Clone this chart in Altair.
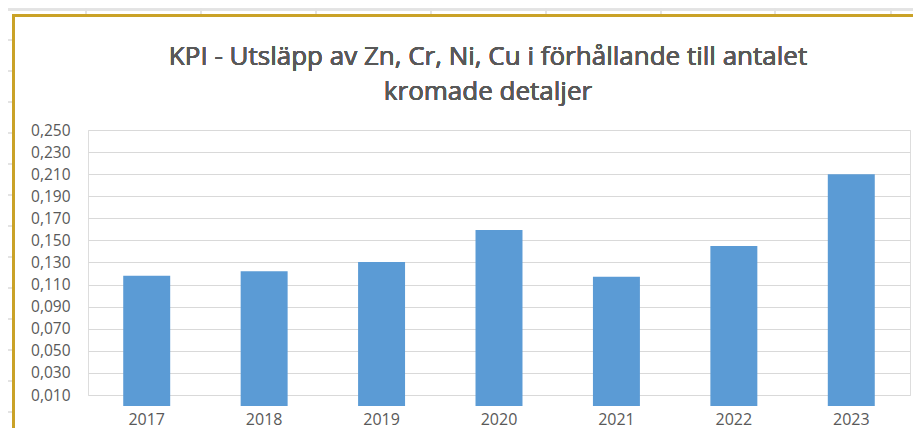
import altair as alt
import pandas as pd

years = ["2017", "2018", "2019", "2020", "2021", "2022", "2023"]
values = [0.118, 0.122, 0.1305, 0.1595, 0.117, 0.145, 0.210]
y_ticks = [0.010, 0.030, 0.050, 0.070, 0.090, 0.110, 0.130, 0.150,
           0.170, 0.190, 0.210, 0.230, 0.250]
title_lines = ["KPI - Utsläpp av Zn, Cr, Ni, Cu i förhållande till antalet",
               "kromade detaljer"]

df = pd.DataFrame({"year": years, "value": values})

TEXT = "#595959"
GRID = "#D9D9D9"
GOLD = "#C9A227"
CELL = "#E3E3E3"
FONT = "Open Sans"

bars = alt.Chart(df).mark_bar(color="#5B9BD5").encode(
    x=alt.X("year:N", sort=years,
            scale=alt.Scale(paddingInner=0.6, paddingOuter=0.3),
            axis=alt.Axis(title=None, labelAngle=0, ticks=False,
                          domain=False, grid=False, labelPadding=16,
                          labelFontSize=16, labelColor=TEXT, labelFont=FONT,
                          labelFontWeight="normal")),
    y=alt.Y("value:Q",
            scale=alt.Scale(domain=[0.01, 0.25], nice=False, zero=False),
            axis=alt.Axis(title=None, values=y_ticks, ticks=False,
                          domain=False, grid=True, gridColor=GRID,
                          gridWidth=1, labelPadding=18, labelFontSize=15.5,
                          labelColor=TEXT, labelFont=FONT,
                          labelFontWeight="normal",
                          labelExpr="replace(format(datum.value, '.3f'), '.', ',')")),
)

# Chart title (two lines)
titles = []
for i, line in enumerate(title_lines):
    titles.append(alt.Chart(df).mark_text(
        font=FONT, fontSize=26, fontWeight="normal", color=TEXT,
        align="center", baseline="alphabetic").encode(
        x=alt.value(400), y=alt.value(-65 + 35 * i), text=alt.value(line)))

# Excel sheet decoration (chart frame and cell lines)
deco = []
deco.append(alt.Chart(df).mark_rule(color=CELL, strokeWidth=2).encode(
    x=alt.value(-82), x2=alt.value(840), y=alt.value(-120.5)))
for cx in [86, 201, 316, 431, 546, 661, 775, 891]:
    deco.append(alt.Chart(df).mark_rule(color=CELL, strokeWidth=2).encode(
        x=alt.value(cx - 88), y=alt.value(-130), y2=alt.value(-115)))
for cy in [40, 71, 102, 133, 164, 195, 226, 257, 288, 319, 350, 381, 412]:
    deco.append(alt.Chart(df).mark_rule(color=CELL, strokeWidth=2).encode(
        x=alt.value(-82), x2=alt.value(-75), y=alt.value(cy - 130)))
deco.append(alt.Chart(df).mark_rule(color=GOLD, strokeWidth=2).encode(
    x=alt.value(-74.5), y=alt.value(-115.5), y2=alt.value(320)))
deco.append(alt.Chart(df).mark_rule(color=GOLD, strokeWidth=2).encode(
    x=alt.value(-75.5), x2=alt.value(840), y=alt.value(-114.5)))

chart = alt.layer(bars, *titles, *deco).properties(
    width=822,
    height=265,
    autosize=alt.AutoSizeParams(type="none"),
    padding={"left": 80, "top": 122, "right": 3, "bottom": 33},
).configure_view(strokeWidth=0).configure(background="white")

chart.save("out.html", embed_options={"renderer": "svg", "actions": False})
